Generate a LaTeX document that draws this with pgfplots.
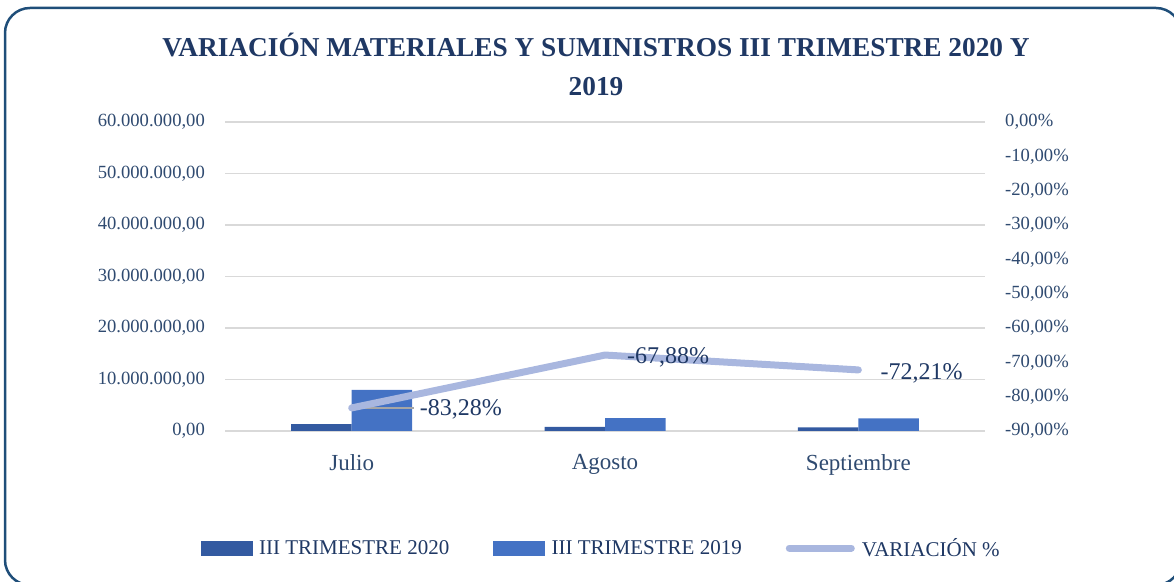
\documentclass[border=0pt]{standalone}
\usepackage{fontspec}
\setmainfont{Liberation Serif}
\usepackage{pgfplots}
\pgfplotsset{compat=1.18}

\definecolor{frameblue}{HTML}{1F4E79}
\definecolor{titleblue}{HTML}{1F3864}
\definecolor{ticktext}{HTML}{2F4A70}
\definecolor{gridgray}{HTML}{D9D9D9}
\definecolor{bardark}{HTML}{335AA1}
\definecolor{barblue}{HTML}{4472C4}
\definecolor{linelight}{HTML}{A9B7DF}
\definecolor{leader}{HTML}{A6A6A6}

\begin{document}
\begin{tikzpicture}[x=1bp,y=1bp]
\useasboundingbox (0,0) rectangle (1174,582);
\draw[frameblue, line width=2.5bp, rounded corners=25bp] (5,-3) rectangle (1181,574);

\node[titleblue, align=center, font=\fontsize{27.3bp}{39bp}\selectfont\bfseries]
  at (596,518) {VARIACIÓN MATERIALES Y SUMINISTROS III TRIMESTRE 2020 Y\\2019};

% bars, left axis
\begin{axis}[
    at={(225bp,151bp)}, anchor=south west,
    width=760bp, height=309bp, scale only axis,
    xmin=-0.5, xmax=2.5,
    ymin=0, ymax=60000000,
    scaled y ticks=false,
    ybar=0pt, bar width=60.5bp,
    axis line style={draw=none},
    major tick length=0pt,
    xtick={0,1,2},
    xticklabels={Julio,Agosto,Septiembre},
    ytick={0,10000000,20000000,30000000,40000000,50000000,60000000},
    yticklabels={{0,00},{10.000.000,00},{20.000.000,00},{30.000.000,00},{40.000.000,00},{50.000.000,00},{60.000.000,00}},
    ymajorgrids,
    grid style={gridgray, line width=1.5bp},
    yticklabel style={ticktext, font=\fontsize{18.6bp}{22bp}\selectfont, anchor=east, inner sep=0pt, xshift=-20bp},
    xticklabel style={ticktext, font=\fontsize{23bp}{27bp}\selectfont, anchor=north, inner sep=0pt, yshift=-23bp},
    ]
    \addplot[fill=bardark, draw=none] coordinates {(0,1330000) (1,810000) (2,686000)};
    \addplot[fill=barblue, draw=none] coordinates {(0,7960000) (1,2520000) (2,2470000)};
\end{axis}

% line, right axis
\begin{axis}[
    at={(225bp,151bp)}, anchor=south west,
    width=760bp, height=309bp, scale only axis,
    xmin=-0.5, xmax=2.5,
    ymin=-90, ymax=0,
    axis x line=none,
    axis y line*=right,
    axis line style={draw=none},
    major tick length=0pt,
    ytick={-90,-80,-70,-60,-50,-40,-30,-20,-10,0},
    yticklabels={{-90,00\%},{-80,00\%},{-70,00\%},{-60,00\%},{-50,00\%},{-40,00\%},{-30,00\%},{-20,00\%},{-10,00\%},{0,00\%}},
    yticklabel style={ticktext, font=\fontsize{18.6bp}{22bp}\selectfont, anchor=west, inner sep=0pt, xshift=20bp},
    legend columns=3,
    legend style={at={(0.495,-0.379)}, anchor=center, draw=none, fill=none,
        font=\fontsize{21bp}{24bp}\selectfont, text=titleblue,
        /tikz/every odd column/.append style={column sep=5bp},
        /tikz/every even column/.append style={column sep=42bp},
        inner sep=0pt},
    ]
    \addlegendimage{legend image code/.code={\fill[bardark] (0bp,-7bp) rectangle (51bp,7bp);}}
    \addlegendentry{III TRIMESTRE 2020}
    \addlegendimage{legend image code/.code={\fill[barblue] (0bp,-7bp) rectangle (51bp,7bp);}}
    \addlegendentry{III TRIMESTRE 2019}

    \draw[leader, line width=1.5bp] (axis cs:0,-83.28) -- ([xshift=62bp]axis cs:0,-83.28);
    \addplot[linelight, line width=7bp, line cap=round, line join=round,
        legend image code/.code={\draw[linelight, line width=7bp, line cap=round] (4bp,0bp) -- (66bp,0bp);}]
        coordinates {(0,-83.28) (1,-67.88) (2,-72.21)};
    \addlegendentry{VARIACIÓN \%}

    \node[anchor=west, titleblue, inner sep=0pt, font=\fontsize{24bp}{28bp}\selectfont] at (axis cs:0,-83.28) [xshift=68bp, yshift=-1bp] {-83,28\%};
    \node[anchor=west, titleblue, inner sep=0pt, font=\fontsize{24bp}{28bp}\selectfont] at (axis cs:1,-67.88) [xshift=22bp, yshift=-2bp] {-67,88\%};
    \node[anchor=west, titleblue, inner sep=0pt, font=\fontsize{24bp}{28bp}\selectfont] at (axis cs:2,-72.21) [xshift=22bp, yshift=-3bp] {-72,21\%};
\end{axis}
\end{tikzpicture}
\end{document}
